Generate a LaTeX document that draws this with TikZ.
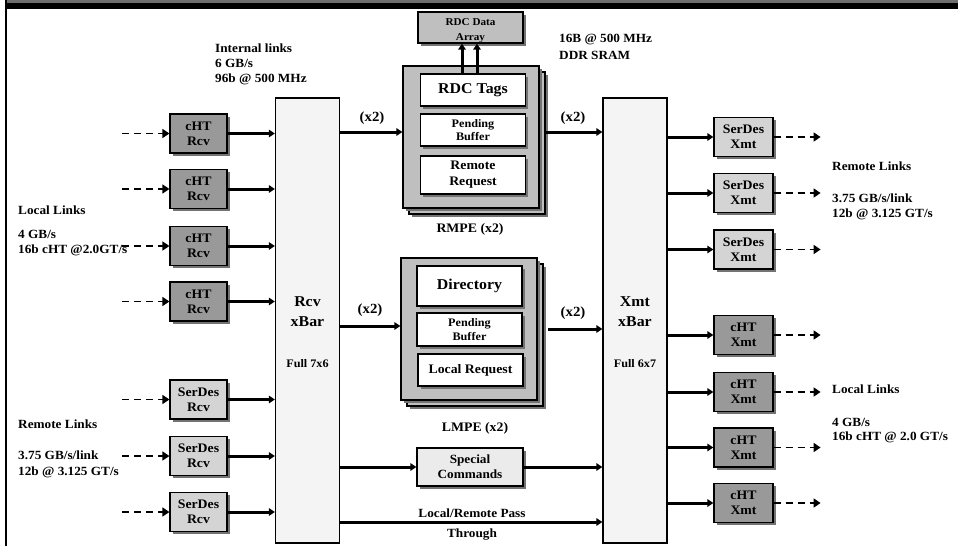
\documentclass[tikz,border=0pt]{standalone}
\usepackage{fontspec}
\setmainfont{Liberation Serif}[FakeStretch=1.06]
\usetikzlibrary{arrows.meta,shadows}
\begin{document}
\begin{tikzpicture}[x=1pt,y=-1pt,
  every node/.style={font=\bfseries\fontsize{12.5}{15.5}\selectfont},
  sh/.style={drop shadow={shadow xshift=2.5pt,shadow yshift=-2.5pt,fill=black!55,opacity=1}},
  bx/.style={sh,draw,line width=1.2pt,align=center,inner sep=0pt},
  linkbox/.style={bx,minimum width=57pt,minimum height=39pt,font=\bfseries\fontsize{13}{15}\selectfont},
  cht/.style={linkbox,fill=gray!80},
  serdes/.style={linkbox,fill=gray!34},
  xbar/.style={draw,line width=1.2pt,fill=gray!9,minimum width=64pt,minimum height=445pt,inner sep=0pt},
  pe/.style={bx,fill=gray!50,minimum width=136pt,minimum height=142pt},
  inbox/.style={bx,fill=white,minimum width=105pt},
  lbl/.style={anchor=west,inner sep=0pt,align=left},
  txt/.style={inner sep=0pt,align=center},
  arr/.style={line width=3pt,-{Triangle[length=6pt,width=7.5pt]}},
  dasharr/.style={line width=1.6pt,dash pattern=on 7pt off 5pt,-{Triangle[length=7pt,width=9pt]}}
]
\useasboundingbox (0,0) rectangle (958,546);
\fill[white] (0,0) rectangle (958,546);
% frame
\fill[black!57] (7,0) rectangle (958,2.7);
\fill[black] (5,2.7) rectangle (958,8.7);
\fill[black] (5,0) rectangle (7,546);

% crossbars
\node[xbar] (rx) at (307.5,320.5) {};
\node[xbar] (xx) at (635,320.5) {};
\node[txt,font=\bfseries\fontsize{15}{20}\selectfont] (rxt) at (307.5,312) {Rcv\\xBar};
\node[txt,font=\bfseries\fontsize{11.5}{14}\selectfont] (rxf) at (307.5,364) {Full 7x6};
\node[txt,font=\bfseries\fontsize{15}{20}\selectfont] (xxt) at (635,312) {Xmt\\xBar};
\node[txt,font=\bfseries\fontsize{11.5}{14}\selectfont] (xxf) at (635,364) {Full 6x7};

% receive link boxes
\node[cht] (cr1) at (198.5,133.5) {cHT\\Rcv};
\node[cht] (cr2) at (198.5,189) {cHT\\Rcv};
\node[cht] (cr3) at (198.5,246) {cHT\\Rcv};
\node[cht] (cr4) at (198.5,301.5) {cHT\\Rcv};
\node[serdes] (sr1) at (198.5,399.5) {SerDes\\Rcv};
\node[serdes] (sr2) at (198.5,456) {SerDes\\Rcv};
\node[serdes] (sr3) at (198.5,512) {SerDes\\Rcv};

% transmit link boxes
\node[serdes,minimum width=59pt] (sx1) at (743.5,137) {SerDes\\Xmt};
\node[serdes,minimum width=59pt] (sx2) at (743.5,193) {SerDes\\Xmt};
\node[serdes,minimum width=59pt] (sx3) at (743.5,249.5) {SerDes\\Xmt};
\node[cht,minimum width=59pt] (cx1) at (743.5,335) {cHT\\Xmt};
\node[cht,minimum width=59pt] (cx2) at (743.5,392) {cHT\\Xmt};
\node[cht,minimum width=59pt] (cx3) at (743.5,447.5) {cHT\\Xmt};
\node[cht,minimum width=59pt] (cx4) at (743.5,503) {cHT\\Xmt};

% link arrows
\foreach \b in {cr1,cr2,cr3,cr4,sr1,sr2,sr3}{
  \coordinate (\b-in) at ([xshift=-47pt]\b.west);
  \draw[dasharr] (\b-in) -- (\b.west);
  \draw[arr] (\b.east) -- (\b.east -| rx.west);
}
\foreach \b in {sx1,sx2,sx3,cx1,cx2,cx3,cx4}{
  \coordinate (\b-out) at ([xshift=47pt]\b.east);
  \draw[dasharr] (\b.east) -- (\b-out);
  \draw[arr] (\b.west -| xx.east) -- (\b.west);
}

% RDC data array
\node[bx,fill=gray!50,minimum width=105pt,minimum height=31pt] (rdc) at (470.5,27.5) {};
\node[txt,font=\bfseries\fontsize{10.5}{15}\selectfont] (rdct) at (470.5,30.5) {RDC Data\\Array};

% RMPE
\node[pe] (rmpeb) at (477,143) {};
\node[pe] (rmpe) at (471,137) {};
\node[inbox,minimum height=32pt,font=\bfseries\fontsize{15}{17}\selectfont] (tags) at (473,90) {RDC Tags};
\node[inbox,minimum height=32pt,font=\bfseries\fontsize{11.5}{13.5}\selectfont] (rpend) at (473,130) {Pending\\Buffer};
\node[inbox,minimum height=38pt,font=\bfseries\fontsize{13}{16}\selectfont] (rreq) at (473,175) {Remote\\Request};
\draw[arr] ([xshift=-11pt]tags.north) -- ([xshift=-11pt]tags.north |- rdc.south);
\draw[arr] ([xshift=4pt]tags.north) -- ([xshift=4pt]tags.north |- rdc.south);
\node[txt,font=\bfseries\fontsize{13}{15}\selectfont] (rmpel) at (470,229) {RMPE (x2)};

% LMPE
\node[pe] (lmpeb) at (475,335) {};
\node[pe] (lmpe) at (469,329) {};
\node[inbox,minimum height=40pt,font=\bfseries\fontsize{15}{17}\selectfont] (dir) at (469.5,286) {Directory};
\node[inbox,minimum height=33pt,font=\bfseries\fontsize{11.5}{13.5}\selectfont] (lpend) at (469.5,329.5) {Pending\\Buffer};
\node[inbox,minimum height=32pt,font=\bfseries\fontsize{13}{16}\selectfont] (lreq) at (470.5,370) {Local Request};
\node[txt,font=\bfseries\fontsize{13}{15}\selectfont] (lmpel) at (475,428) {LMPE (x2)};

% special commands
\node[bx,fill=gray!16,minimum width=106pt,minimum height=38pt,font=\bfseries\fontsize{12.5}{15}\selectfont] (spc) at (470,467) {Special\\Commands};

% internal connections
\coordinate (rin) at (339,132);
\coordinate (lin) at (339,326);
\coordinate (lout) at (548,329);
\coordinate (ptin) at (339,522);
\draw[arr] (rin) -- (rin -| rmpe.west);
\draw[arr] (rin -| rmpeb.east) -- (rin -| xx.west);
\draw[arr] (lin) -- (lin -| lmpe.west);
\draw[arr] (lout) -- (lout -| xx.west);
\draw[arr] (spc.west -| rx.east) -- (spc.west);
\draw[arr] (spc.east) -- (spc.east -| xx.west);
\draw[arr] (ptin) -- (ptin -| xx.west);

\node[txt,font=\bfseries\fontsize{14}{16}\selectfont] (x2a) at (372,118) {(x2)};
\node[txt,font=\bfseries\fontsize{14}{16}\selectfont] (x2b) at (573,118) {(x2)};
\node[txt,font=\bfseries\fontsize{14}{16}\selectfont] (x2c) at (370,310) {(x2)};
\node[txt,font=\bfseries\fontsize{14}{16}\selectfont] (x2d) at (573,313) {(x2)};
\node[txt] (ptl1) at (472,513) {Local/Remote Pass};
\node[txt] (ptl2) at (472,535) {Through};

% annotations
\node[lbl] (il1) at (215,48) {Internal links};
\node[lbl] (il2) at (215,63.5) {6 GB/s};
\node[lbl] (il3) at (215,79) {96b @ 500 MHz};
\node[lbl] (sr1t) at (559,40) {16B @ 500 MHz};
\node[lbl] (sr2t) at (559,55.5) {DDR SRAM};

\node[lbl] (ll1) at (18,210) {Local Links};
\node[lbl] (ll2) at (18,234) {4 GB/s};
\node[lbl] (ll3) at (18,250) {16b cHT @2.0GT/s};
\node[lbl] (rl1) at (18,424) {Remote Links};
\node[lbl] (rl2) at (18,455) {3.75 GB/s/link};
\node[lbl] (rl3) at (18,472) {12b @ 3.125 GT/s};

\node[lbl] (rr1) at (832,166) {Remote Links};
\node[lbl] (rr2) at (832,198) {3.75 GB/s/link};
\node[lbl] (rr3) at (832,214) {12b @ 3.125 GT/s};
\node[lbl] (lr1) at (832,389) {Local Links};
\node[lbl] (lr2) at (832,422) {4 GB/s};
\node[lbl] (lr3) at (832,437) {16b cHT @ 2.0 GT/s};
\end{tikzpicture}
\end{document}
